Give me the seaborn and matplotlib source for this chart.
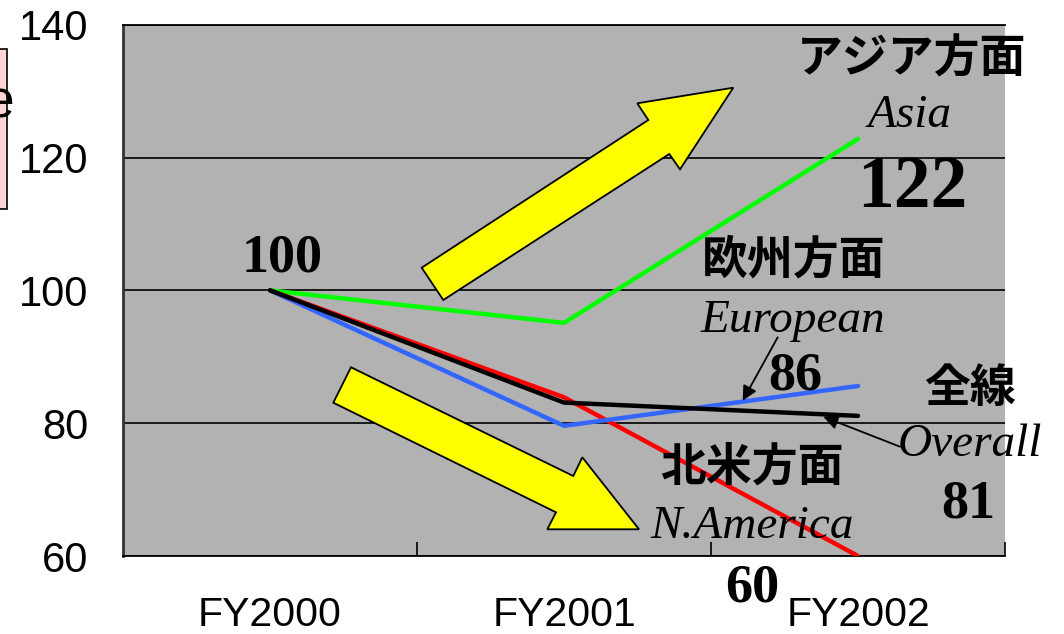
import numpy as np
import pandas as pd
import matplotlib
matplotlib.use("Agg")
import matplotlib.pyplot as plt
import seaborn as sns
from matplotlib.patches import Polygon, Rectangle
from matplotlib.transforms import Affine2D

# ---------------- data ----------------
years = ["FY2000", "FY2001", "FY2002"]
asia = [100, 95.1, 122.8]
european = [100, 79.6, 85.6]
n_america = [100, 83.9, 60.0]
overall = [100, 83.1, 81.1]
series_order = ["Asia", "N.America", "European", "Overall"]
series_colors = {"Asia": "#00FF00", "N.America": "#FF0000",
                 "European": "#3366FF", "Overall": "#000000"}
yticks = [60, 80, 100, 120, 140]

df = pd.DataFrame({
    "year": years * 4,
    "value": asia + n_america + european + overall,
    "series": sum([[s] * 3 for s in series_order], []),
})

# ---------------- style ----------------
sns.set_theme(style="white")
plt.rcParams["font.family"] = ["Liberation Sans", "DejaVu Sans"]

W, H = 1064, 634
fig = plt.figure(figsize=(W / 100, H / 100), dpi=100)
pix = Affine2D().scale(1 / W, -1 / H).translate(0, 1) + fig.transFigure

ax = fig.add_axes([123 / W, 78 / H, 882 / W, 531.3 / H])
ax.set_facecolor("#B2B2B2")

sns.lineplot(data=df, x="year", y="value", hue="series", hue_order=series_order,
             palette=series_colors, linewidth=3.2, legend=False, sort=False,
             ax=ax, zorder=5)
for ln in ax.lines:
    ln.set_solid_capstyle("round")
    ln.set_solid_joinstyle("miter")

ax.set_xlim(-0.5, 2.5)
ax.set_ylim(60, 140)
ax.set_yticks(yticks)
ax.set_yticklabels([str(v) for v in yticks])
ax.set_xticks(range(len(years)))
ax.set_xticklabels(years)
ax.set_xticks([0.5, 1.5, 2.5], minor=True)
ax.set_xlabel("")
ax.set_ylabel("")
ax.yaxis.grid(True, color="black", linewidth=1.2)
ax.xaxis.grid(False)
ax.set_axisbelow(True)

ax.tick_params(axis="y", length=0, pad=25, labelsize=30, labelcolor="black")
ax.tick_params(axis="x", which="major", length=0, pad=29, labelsize=29.5, labelcolor="black")
ax.tick_params(axis="x", which="minor", direction="in", length=10, width=1.2,
               color="black", bottom=True)

for side in ["bottom", "top"]:
    ax.spines[side].set_visible(True)
    ax.spines[side].set_color("black")
    ax.spines[side].set_linewidth(1.3)
ax.spines["left"].set_visible(True)
ax.spines["left"].set_color("#333333")
ax.spines["left"].set_linewidth(2)
ax.spines["right"].set_visible(False)

# ---------------- yellow block arrows ----------------
up_arrow = [(421.7, 267.7), (648.3, 120), (637.3, 103.3), (733.3, 87.7),
            (680, 169.3), (669.3, 154), (443.3, 300)]
down_arrow = [(351, 367.3), (573.3, 476), (582.3, 457.3), (639, 529.3),
              (547.3, 529.3), (556, 512.3), (333.3, 402.7)]
for pts in (up_arrow, down_arrow):
    fig.add_artist(Polygon(pts, closed=True, transform=pix, facecolor="#FFFF00",
                           edgecolor="black", linewidth=1.3, zorder=3))

# ---------------- labels ----------------
serif = ["Liberation Serif", "DejaVu Serif"]
cjk = ["Noto Sans CJK JP", "DejaVu Sans"]

def label(x, y, s, family, size, weight="normal", style="normal"):
    fig.text(x, y, s, transform=pix, ha="center", va="center", fontsize=size,
             family=family, fontweight=weight, fontstyle=style, color="black",
             zorder=10)

label(282, 259, "100", serif, 39, weight="bold")
label(911, 60, "アジア方面", cjk, 33, weight="bold")
label(910, 116, "Asia", serif, 34, style="italic")
label(912, 189, "122", serif, 53, weight="bold")
label(794, 261, "欧州方面", cjk, 33, weight="bold")
label(793, 321, "European", serif, 34, style="italic")
label(795, 377, "86", serif, 39, weight="bold")
label(970, 389, "全線", cjk, 33, weight="bold")
label(970, 445, "Overall", serif, 34, style="italic")
label(968, 505, "81", serif, 39, weight="bold")
label(752, 468, "北米方面", cjk, 33, weight="bold")
label(752, 527, "N.America", serif, 34, style="italic")
label(752, 588, "60", serif, 39, weight="bold")

# pointer arrows
ax.annotate("", xy=(742.7, 400.7), xytext=(777.7, 337.3), xycoords=pix,
            textcoords=pix, arrowprops=dict(arrowstyle="-|>", color="black",
                                            lw=1.3, mutation_scale=22, shrinkA=0, shrinkB=0),
            zorder=9)
ax.annotate("", xy=(823.3, 416.7), xytext=(900, 446.7), xycoords=pix,
            textcoords=pix, arrowprops=dict(arrowstyle="-|>", color="black",
                                            lw=1.3, mutation_scale=22, shrinkA=0, shrinkB=0),
            zorder=9)

# cropped pink label box at the far left (as in the reference)
fig.add_artist(Rectangle((-20, 49), 26.7, 160, transform=pix, facecolor="#FFD6D6",
                         edgecolor="black", linewidth=1.2, zorder=1))
fig.text(14, 104, "e", transform=pix, ha="right", va="center", fontsize=37,
         color="black", zorder=2)

fig.savefig("out.png", dpi=100)
